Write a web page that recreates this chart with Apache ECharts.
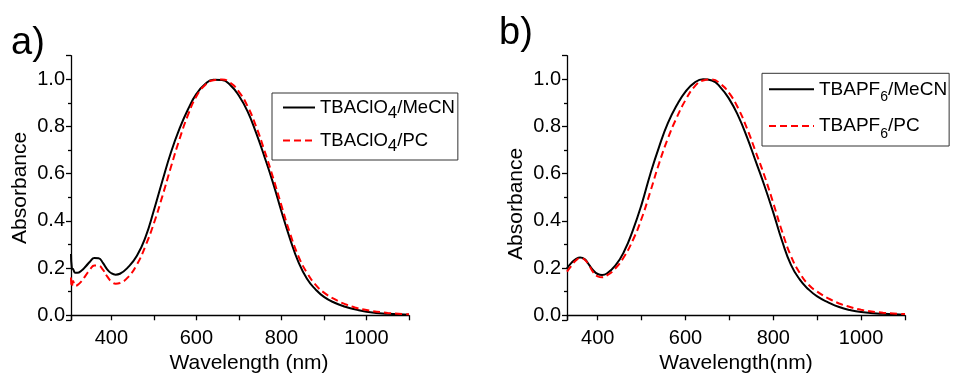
<!DOCTYPE html>
<html>
<head>
<meta charset="utf-8">
<script src="https://cdn.jsdelivr.net/npm/echarts@6/dist/echarts.min.js"></script>
<style>
html,body{margin:0;padding:0;background:#fff;}
#c{width:954px;height:374px;}
</style>
</head>
<body>
<div id="c"></div>
<script>
// ---- Panel a) data ----
var wlA = [305, 307, 310, 315, 320, 330, 340, 350, 360, 370, 380, 390, 400, 410, 420, 440, 460, 480, 500, 520, 540, 560, 580, 600, 620, 640, 660, 680, 700, 720, 740, 760, 780, 800, 820, 840, 860, 880, 900, 925, 950, 975, 1000, 1050, 1100];
var absA_MeCN = [0.26, 0.20, 0.195, 0.18, 0.18, 0.19, 0.208, 0.228, 0.243, 0.242, 0.222, 0.195, 0.178, 0.172, 0.176, 0.205, 0.252, 0.33, 0.445, 0.57, 0.69, 0.79, 0.872, 0.938, 0.979, 0.998, 0.997, 0.975, 0.93, 0.865, 0.775, 0.672, 0.562, 0.44, 0.325, 0.225, 0.155, 0.11, 0.078, 0.053, 0.036, 0.024, 0.015, 0.006, 0.002];
var absA_PC = [0.16, 0.12, 0.145, 0.125, 0.128, 0.145, 0.17, 0.195, 0.211, 0.21, 0.193, 0.165, 0.143, 0.134, 0.137, 0.163, 0.215, 0.293, 0.39, 0.505, 0.628, 0.745, 0.848, 0.928, 0.975, 0.996, 0.999, 0.985, 0.947, 0.887, 0.802, 0.698, 0.585, 0.465, 0.348, 0.25, 0.18, 0.13, 0.096, 0.068, 0.047, 0.032, 0.022, 0.01, 0.004];

// ---- Panel b) data ----
var wlB = [330, 340, 350, 360, 370, 380, 390, 400, 410, 420, 440, 460, 480, 500, 520, 540, 560, 580, 600, 620, 640, 660, 680, 700, 720, 740, 760, 780, 800, 820, 840, 860, 880, 900, 925, 950, 975, 1000, 1050, 1100];
var absB_MeCN = [0.199, 0.222, 0.238, 0.245, 0.238, 0.215, 0.19, 0.175, 0.171, 0.176, 0.21, 0.27, 0.36, 0.47, 0.6, 0.715, 0.815, 0.89, 0.948, 0.985, 1.0, 0.995, 0.965, 0.915, 0.845, 0.755, 0.652, 0.548, 0.435, 0.315, 0.215, 0.152, 0.11, 0.08, 0.055, 0.035, 0.022, 0.014, 0.006, 0.002];
var absB_PC = [0.185, 0.21, 0.232, 0.242, 0.236, 0.212, 0.182, 0.165, 0.161, 0.168, 0.198, 0.248, 0.318, 0.41, 0.525, 0.645, 0.75, 0.838, 0.912, 0.968, 0.995, 0.999, 0.98, 0.94, 0.877, 0.792, 0.692, 0.59, 0.475, 0.355, 0.252, 0.18, 0.13, 0.1, 0.072, 0.05, 0.035, 0.023, 0.011, 0.005];

var namesA = ['TBAClO4/MeCN', 'TBAClO4/PC'];
var namesB = ['TBAPF6/MeCN', 'TBAPF6/PC'];
var panelLabels = ['a)', 'b)'];
var xTitles = ['Wavelength (nm)', 'Wavelength(nm)'];
var yTitle = 'Absorbance';

function pairs(xs, ys) { return xs.map(function (x, i) { return [x, ys[i]]; }); }

var FONT = '"Liberation Sans", Arial, sans-serif';

function xAxisCfg(idx, min, title, pad) {
  return {
    type: 'value', gridIndex: idx, min: min, max: 1100,
    minInterval: 100, maxInterval: 100,
    splitLine: { show: false },
    axisLine: { lineStyle: { color: '#000', width: 1.3 } },
    axisTick: { length: 5, lineStyle: { color: '#000', width: 1.3 } },
    axisLabel: {
      color: '#000', fontSize: 20, fontFamily: FONT, margin: 8,
      formatter: function (v) { return (Math.abs(v % 200) < 1e-6) ? String(v) : ''; }
    },
    name: title, nameLocation: 'middle', nameGap: 27,
    nameTextStyle: { color: '#000', fontSize: 21, fontFamily: FONT, padding: pad }
  };
}
function yAxisCfg(idx, pad) {
  return {
    type: 'value', gridIndex: idx, min: -0.02, max: 1.1,
    minInterval: 0.2, maxInterval: 0.2,
    splitLine: { show: false },
    axisLine: { lineStyle: { color: '#000', width: 1.3 } },
    axisTick: { length: 5, lineStyle: { color: '#000', width: 1.3 } },
    minorTick: { show: true, splitNumber: 2, length: 3, lineStyle: { color: '#000', width: 1.3 } },
    minorSplitLine: { show: false },
    axisLabel: {
      color: '#000', fontSize: 20, fontFamily: FONT, margin: 6,
      formatter: function (v) { return (v < -0.001 || v > 1.05) ? '' : v.toFixed(1); }
    },
    name: yTitle, nameLocation: 'middle', nameGap: 40, nameRotate: 90,
    nameTextStyle: { color: '#000', fontSize: 21, fontFamily: FONT, padding: pad }
  };
}

function legendFmt(name) {
  var m = name.match(/^(TBA[A-Za-z]+)(\d)(\/.*)$/);
  return '{t|' + m[1] + '}{s|' + m[2] + '}{t|' + m[3] + '}';
}
var richA = {
  t: { fontSize: 18.5, fontFamily: FONT, color: '#000', lineHeight: 24 },
  s: { fontSize: 17, fontFamily: FONT, color: '#000', lineHeight: 24, padding: [12, 0, 0, 0] }
};
var richB = {
  t: { fontSize: 19, fontFamily: FONT, color: '#000', lineHeight: 24 },
  s: { fontSize: 14, fontFamily: FONT, color: '#000', lineHeight: 24, padding: [16, 0, 0, 0] }
};

function lineSeries(name, xi, yi, data, color, dashed) {
  return {
    type: 'line', name: name, xAxisIndex: xi, yAxisIndex: yi,
    data: data, symbol: 'none', showSymbol: false, smooth: 0.5,
    lineStyle: { color: color, width: 2, type: dashed ? [7, 4] : 'solid' },
    itemStyle: { color: color },
    z: dashed ? 3 : 2
  };
}

var chart = echarts.init(document.getElementById('c'), null, { renderer: 'canvas' });
chart.setOption({
  animation: false,
  backgroundColor: '#fff',
  title: [
    { text: panelLabels[0], left: 11, top: 25, padding: 0, textStyle: { fontSize: 38, fontWeight: 'normal', color: '#000', fontFamily: FONT } },
    { text: panelLabels[1], left: 499, top: 15, padding: 0, textStyle: { fontSize: 38, fontWeight: 'normal', color: '#000', fontFamily: FONT } }
  ],
  grid: [
    { left: 71, right: 545, top: 55.7, bottom: 54, outerBoundsMode: 'none', containLabel: false },
    { left: 567, right: 49, top: 55.7, bottom: 54, outerBoundsMode: 'none', containLabel: false }
  ],
  xAxis: [xAxisCfg(0, 305, xTitles[0], [0, 0, 0, 18]), xAxisCfg(1, 330, xTitles[1], [0, 0, 0, 0])],
  yAxis: [yAxisCfg(0, [0, 0, 0, 0]), yAxisCfg(1, [0, 32, 0, 0])],
  legend: [
    {
      data: namesA, left: 272, top: 93, orient: 'vertical', itemWidth: 32, itemHeight: 12, itemGap: 4,
      padding: [0, 3, 5, 10], borderColor: '#333', borderWidth: 1, backgroundColor: '#fff',
      itemStyle: { color: 'transparent', borderWidth: 0, opacity: 0 },
      formatter: legendFmt, textStyle: { rich: richA }
    },
    {
      data: namesB, left: 762, top: 73.3, orient: 'vertical', itemWidth: 45, itemHeight: 12, itemGap: 6.7,
      padding: [1, 2, 5, 6], borderColor: '#333', borderWidth: 1, backgroundColor: '#fff',
      itemStyle: { color: 'transparent', borderWidth: 0, opacity: 0 },
      formatter: legendFmt, textStyle: { rich: richB }
    }
  ],
  series: [
    lineSeries(namesA[0], 0, 0, pairs(wlA, absA_MeCN), '#000', false),
    lineSeries(namesA[1], 0, 0, pairs(wlA, absA_PC), '#ff0000', true),
    lineSeries(namesB[0], 1, 1, pairs(wlB, absB_MeCN), '#000', false),
    lineSeries(namesB[1], 1, 1, pairs(wlB, absB_PC), '#ff0000', true)
  ]
});
</script>
</body>
</html>
